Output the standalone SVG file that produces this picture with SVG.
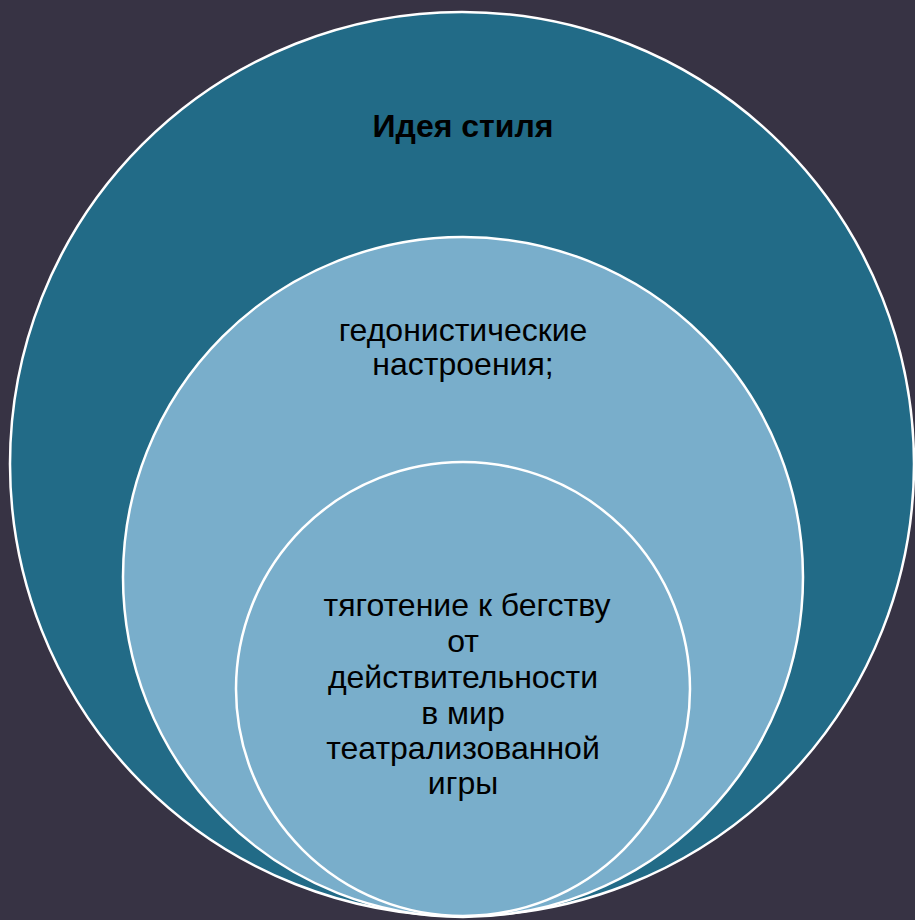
<svg xmlns="http://www.w3.org/2000/svg" width="915" height="920" viewBox="0 0 915 920">
<style>
.c{stroke:#fff;stroke-width:2.5}
.t{font-family:"Liberation Sans",Arial,sans-serif;font-size:32px;fill:#000;text-anchor:middle}
</style>
<rect width="915" height="920" fill="#373344"/>
<g id="outer">
<circle class="c" cx="462" cy="464" r="452" fill="#226B87"/>
<text class="t" x="463" y="137" font-weight="bold">Идея стиля</text>
</g>
<g id="middle">
<circle class="c" cx="463" cy="577" r="340" fill="#79AECB"/>
<text class="t" x="463" y="341">гедонистические</text>
<text class="t" x="463" y="375">настроения;</text>
</g>
<g id="inner">
<circle class="c" cx="463" cy="689" r="227" fill="#79AECB"/>
<text class="t" x="467" y="616">тяготение к бегству</text>
<text class="t" x="463" y="652">от</text>
<text class="t" x="463" y="688">действительности</text>
<text class="t" x="463" y="724">в мир</text>
<text class="t" x="463" y="759">театрализованной</text>
<text class="t" x="463" y="794">игры</text>
</g>
<g id="connectors"/>
</svg>
